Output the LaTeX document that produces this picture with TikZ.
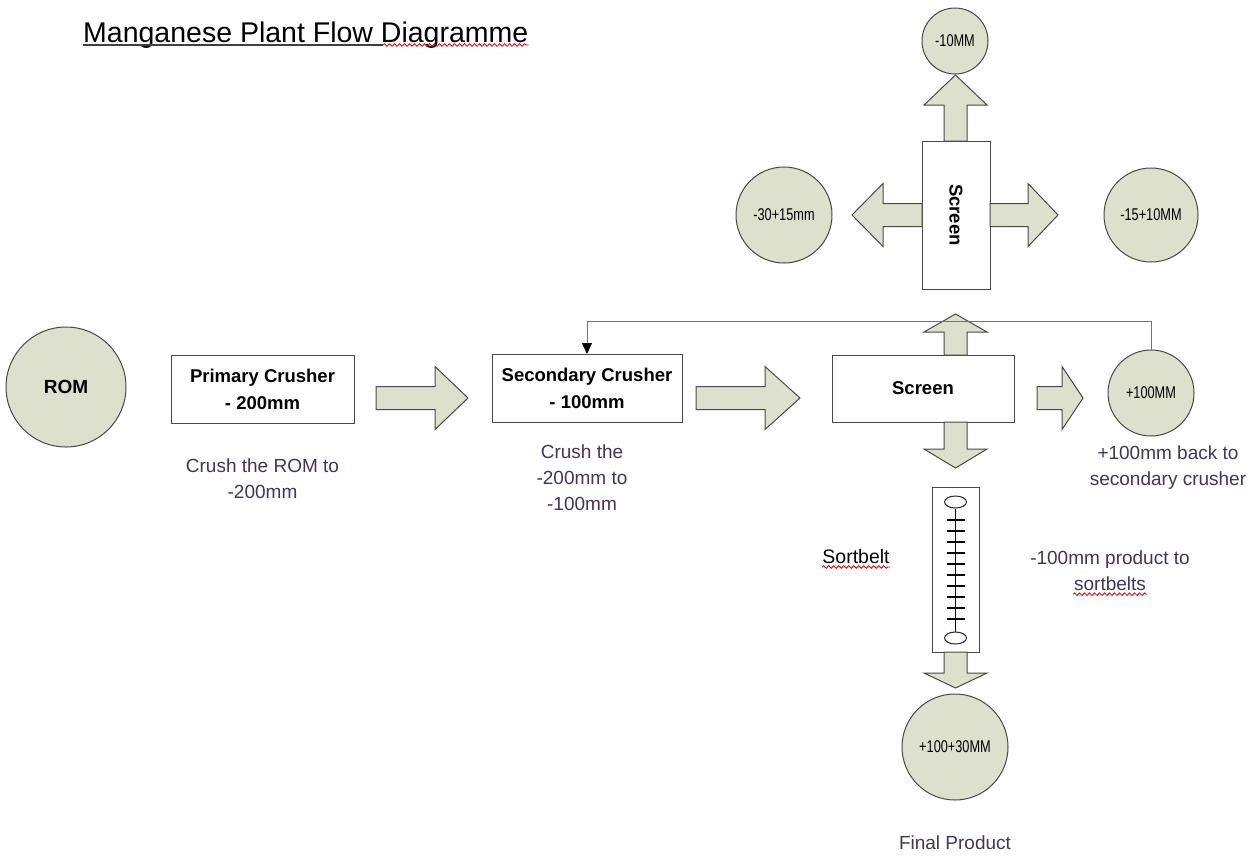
\documentclass[tikz,border=0pt]{standalone}
\usepackage{fontspec}
\setmainfont{Liberation Sans}
\newfontfamily\narrowsans[FakeStretch=0.75]{Liberation Sans}
\usepackage{xcolor}
\usepackage{tikz}
\usetikzlibrary{positioning,arrows.meta,shapes.geometric,decorations.pathmorphing}
\definecolor{sage}{RGB}{221,224,204}
\definecolor{edgegray}{RGB}{72,72,72}
\definecolor{noteink}{RGB}{68,52,88}

\begin{document}
\begin{tikzpicture}[x=1pt, y=-1pt,
  stage/.style={draw=edgegray, line width=1pt, fill=white, align=center, inner sep=0pt, font=\fontsize{18.5}{27}\selectfont\bfseries},
  pool/.style={circle, draw=edgegray, line width=1pt, fill=sage, inner sep=0pt, font=\narrowsans\fontsize{17}{20}\selectfont},
  note/.style={align=center, inner sep=0pt, text=noteink, font=\fontsize{19}{26}\selectfont},
  blockarr/.style={draw=edgegray, line width=1pt, fill=sage, line join=miter},
  drum/.style={ellipse, draw=black!85, line width=1pt, minimum width=22, minimum height=12, inner sep=0pt},
  feed/.style={draw=black!55, line width=1pt, -{Triangle[length=11pt,width=10pt,color=black]}},
  spell/.style={red!85!black, line width=0.8pt, decorate, decoration={snake, amplitude=1.3pt, segment length=5pt}},
  pics/barrow/.style 2 args={code={
    \draw[blockarr] (0,-11.5) -- (#1,-11.5) -- (#1,-31.5) -- ({#1+#2},0) -- (#1,31.5) -- (#1,11.5) -- (0,11.5) -- cycle;}}]
  \useasboundingbox[fill=white] (0,0) rectangle (1258,855);

  % title
  \node[anchor=base west, inner sep=0pt, font=\fontsize{28.5}{32}\selectfont] (title) at (83,42) {Manganese Plant Flow Diagramme};
  \draw[line width=1.2pt, black!75] ([yshift=-3pt]title.base west) -- ([xshift=300pt,yshift=-3pt]title.base west);
  \draw[spell] ([xshift=300pt,yshift=-3pt]title.base west) -- ([yshift=-3pt]title.base east);

  % main line
  \node[pool, minimum size=120, font=\bfseries\fontsize{19}{22}\selectfont] (rom) at (66,387) {ROM};
  \node[stage, minimum width=183, minimum height=68] (prim) at (262.5,389) {Primary Crusher\\- 200mm};
  \node[stage, minimum width=190, minimum height=68] (sec) at (587,388.5) {Secondary Crusher\\- 100mm};
  \node[stage, minimum width=182, minimum height=67] (scrH) at (923,388.5) {Screen};
  \node[pool, minimum size=86] (over) at (1151,393) {+100MM};

  % upper screen and its products
  \node[stage, rotate=-90, minimum width=148, minimum height=68] (scrV) at (956,215) {Screen};
  \node[pool, minimum size=66] (fine) at (955,41) {-10MM};
  \node[pool, minimum size=96] (mid) at (784,215) {-30+15mm};
  \node[pool, minimum size=94] (small) at (1151,215) {-15+10MM};

  % sortbelt
  \node[draw=edgegray, line width=1pt, minimum width=47, minimum height=165, inner sep=0pt] (belt) at (955.5,569.5) {};
  \node[drum] (drumT) at (955.5,502) {};
  \node[drum] (drumB) at (955.5,638) {};
  \draw[line width=1.2pt] (drumT) -- (drumB);
  \foreach \k in {0,...,9} \draw[line width=1.2pt] (946.5,{520+11*\k}) -- (964.5,{520+11*\k});
  \node[pool, minimum size=106] (prod) at (955,747) {+100+30MM};

  % block arrows
  \pic at (376,398) {barrow={59}{33}};
  \pic at (696,398) {barrow={69}{35}};
  \pic at (1037,398) {barrow={25}{21}};
  \pic[rotate=90] at (955.5,355) {barrow={23}{18}};
  \pic[rotate=-90] at (955.5,422) {barrow={27}{19}};
  \pic[rotate=90] at (955.5,141) {barrow={36}{30}};
  \pic[rotate=180] at (922,215) {barrow={39}{31}};
  \pic at (990,215) {barrow={38}{30}};
  \pic[rotate=-90] at (955.5,652) {barrow={21}{15}};

  % oversize back to secondary crusher
  \coordinate (loopR) at (1151,321);
  \draw[feed] (over.north) -- (loopR) -| (sec.north);

  % notes
  \node[note, below=35pt of prim] (primnote) {Crush the ROM to\\-200mm};
  \node[note, below=22pt of sec, xshift=-5pt] (secnote) {Crush the\\-200mm to\\-100mm};
  \node[note, below=9pt of over, xshift=17pt] (backnote) {+100mm back to\\secondary crusher};
  \node[inner sep=0pt, font=\fontsize{19.5}{24}\selectfont] (beltlbl) at (856,557) {Sortbelt};
  \draw[spell] ([yshift=-3pt]beltlbl.base west) -- ([yshift=-3pt]beltlbl.base east);
  \node[note] (sortnote) at (1110,571) {-100mm product to\\sortbelts};
  \draw[spell] ([xshift=-37pt,yshift=-3pt]sortnote.south) -- ([xshift=37pt,yshift=-3pt]sortnote.south);
  \node[note, below=35pt of prod] (finlbl) {Final Product};
\end{tikzpicture}
\end{document}
